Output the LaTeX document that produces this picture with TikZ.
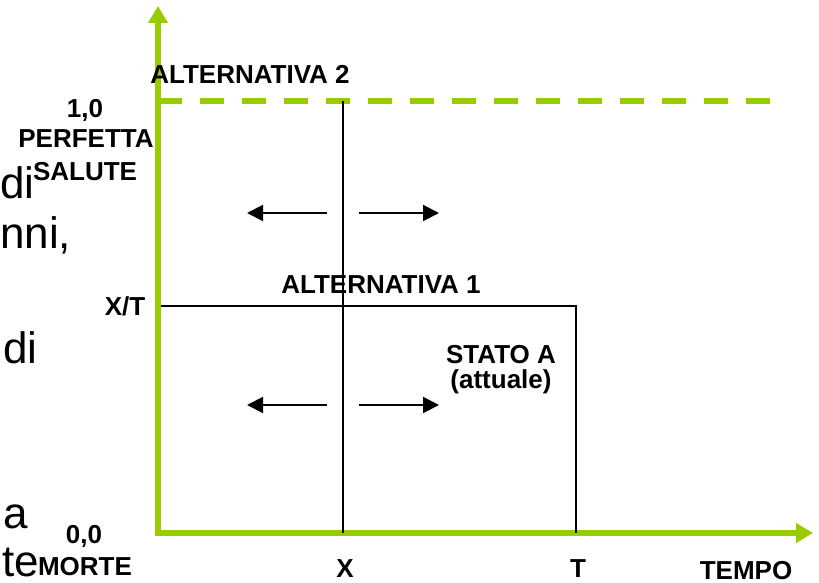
\documentclass[tikz,border=0pt]{standalone}
\usepackage{fontspec}
\setmainfont{Liberation Sans}
\usetikzlibrary{arrows.meta}
\definecolor{axisgreen}{HTML}{99CC00}

\begin{document}
\begin{tikzpicture}[x=1pt, y=-1pt,
    axis/.style={axisgreen, line width=6pt, line join=miter,
      {Triangle[length=17pt, width=19pt]}-{Triangle[length=17pt, width=19pt]}},
    level/.style={axisgreen, line width=6pt, dash pattern=on 24pt off 18pt},
    frame/.style={black, line width=2pt},
    movearrow/.style={black, line width=2pt, -{Triangle[length=16pt, width=16pt]}},
    lbl/.style={inner sep=0pt, anchor=base, font=\bfseries\fontsize{26}{30}\selectfont},
    slide/.style={inner sep=0pt, anchor=base west, font=\fontsize{44}{48}\selectfont}
  ]
  \useasboundingbox (0,0) rectangle (819,583);
  \clip (0,0) rectangle (819,583);

  % text of the slide behind the chart
  \node[slide] (s1) at (0,198) {di};
  \node[slide] (s2) at (0,248) {nni,};
  \node[slide] (s3) at (3,363) {di};
  \node[slide] (s4) at (3,528) {a};
  \node[slide] (s5) at (2,576) {te};

  % levels and axes
  \coordinate (L0) at (158,101);
  \coordinate (L1) at (770,101);
  \draw[level] (L0) -- (L1);
  \coordinate (ytop) at (158,6);
  \coordinate (O) at (158,533);
  \coordinate (xend) at (813,533);
  \draw[axis] (ytop) -- (O) -- (xend);

  \coordinate (Xtop) at (343,101);
  \coordinate (Xbot) at (343,533);
  \draw[frame] (Xtop) -- (Xbot);
  \coordinate (XT) at (161,306);
  \coordinate (Tc) at (576,306);
  \coordinate (Tbot) at (576,533);
  \draw[frame] (XT) -- (Tc) -- (Tbot);

  % shifts of X
  \foreach \y/\n in {213/up, 405/down} {
    \coordinate (\n l1) at (327,\y);
    \coordinate (\n l2) at (247,\y);
    \coordinate (\n r1) at (359,\y);
    \coordinate (\n r2) at (439,\y);
    \draw[movearrow] (\n l1) -- (\n l2);
    \draw[movearrow] (\n r1) -- (\n r2);
  }

  % labels
  \node[lbl] (alt2) at (250,84) {ALTERNATIVA 2};
  \node[lbl] (one) at (85,118) {1,0};
  \node[lbl] (perf) at (86,148) {PERFETTA};
  \node[lbl] (sal) at (85,180) {SALUTE};
  \node[lbl] (xt) at (125,315) {X/T};
  \node[lbl] (alt1) at (381,293) {ALTERNATIVA 1};
  \node[lbl] (stato) at (501,363) {STATO A};
  \node[lbl] (attuale) at (501,388) {(attuale)};
  \node[lbl] (zero) at (84,543) {0,0};
  \node[lbl] (morte) at (85,575) {MORTE};
  \node[lbl] (xlab) at (345,577) {X};
  \node[lbl] (tlab) at (578,577) {T};
  \node[lbl] (tempo) at (746,579) {TEMPO};
\end{tikzpicture}
\end{document}
